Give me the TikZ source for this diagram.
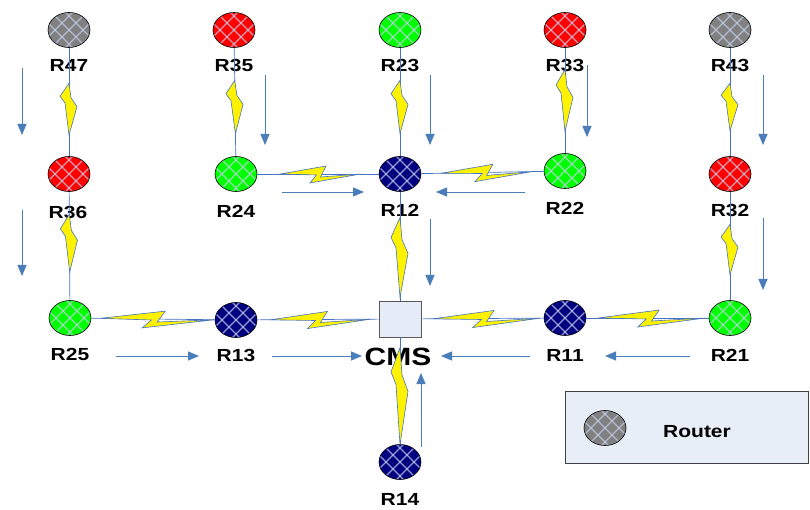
\documentclass[tikz,border=0pt]{standalone}
\usepackage{fontspec}
\usetikzlibrary{shapes.geometric,arrows.meta,calc}
\newfontfamily\lblfont[FakeStretch=1.2]{Liberation Sans}

\definecolor{linkblue}{RGB}{68,114,196}
\definecolor{flowblue}{RGB}{74,126,187}
\definecolor{routergray}{RGB}{128,128,128}
\definecolor{routerred}{RGB}{255,0,0}
\definecolor{routergreen}{RGB}{0,255,0}
\definecolor{routernavy}{RGB}{0,0,128}
\definecolor{hatchcol}{RGB}{196,208,236}
\definecolor{cmsfill}{RGB}{230,236,247}
\definecolor{legendfill}{RGB}{232,238,248}

% Z-shaped lightning bolt on a left-to-right link
\newcommand\zbolt[4]{%
  \pgfmathsetmacro\tU{#3+0.57*(#4-#3)}%
  \pgfmathsetmacro\tNb{#3+0.50*(#4-#3)}%
  \pgfmathsetmacro\tLc{#3+0.37*(#4-#3)}%
  \pgfmathsetmacro\tNa{#3+0.45*(#4-#3)}%
  \filldraw[bolt] ($(#1)!#3!(#2)$)
    -- ($(#1)!\tU!(#2)!8pt!90:(#2)$)
    -- ($(#1)!\tNb!(#2)!-3pt!90:(#2)$)
    -- ($(#1)!#4!(#2)$)
    -- ($(#1)!\tLc!(#2)!-9pt!90:(#2)$)
    -- ($(#1)!\tNa!(#2)!-1pt!90:(#2)$)
    -- cycle;}
% lightning bolt on a top-to-bottom link
\newcommand\nbolt[4]{%
  \pgfmathsetmacro\tNa{#3+0.28*(#4-#3)}%
  \pgfmathsetmacro\tR{#3+0.45*(#4-#3)}%
  \pgfmathsetmacro\tNb{#3+0.38*(#4-#3)}%
  \pgfmathsetmacro\tL{#3+0.25*(#4-#3)}%
  \filldraw[bolt] ($(#1)!#3!(#2)$)
    -- ($(#1)!\tNa!(#2)!2pt!90:(#2)$)
    -- ($(#1)!\tR!(#2)!8pt!90:(#2)$)
    -- ($(#1)!#4!(#2)$)
    -- ($(#1)!\tNb!(#2)!-4pt!90:(#2)$)
    -- ($(#1)!\tL!(#2)!-9pt!90:(#2)$)
    -- cycle;}

\tikzset{
  hatchline/.style={draw=hatchcol, draw opacity=0.75, line width=1.1pt},
  hatch/.style={path picture={
    \foreach \k in {-3,...,3}{
      \draw[hatchline] ([xshift={\k*14-25},yshift=-25]path picture bounding box.center) -- ++(50,50);
      \draw[hatchline] ([xshift={\k*14+25},yshift=-25]path picture bounding box.center) -- ++(-50,50);
    }}},
  router/.style={ellipse, draw=black, line width=0.6pt, minimum width=42pt,
    minimum height=35pt, inner sep=0pt, hatch},
  gr/.style={router, fill=routergray},
  rd/.style={router, fill=routerred},
  gn/.style={router, fill=routergreen},
  nv/.style={router, fill=routernavy},
  lbl/.style={inner sep=0pt, font=\lblfont\bfseries\fontsize{17.5}{20}\selectfont},
  cmsbox/.style={rectangle, draw=black!65, line width=0.9pt, fill=cmsfill,
    minimum width=42pt, minimum height=36pt, inner sep=0pt},
  link/.style={draw=linkblue, line width=0.7pt},
  bolt/.style={fill=yellow, draw=linkblue, line width=0.6pt, line join=miter},
  flow/.style={draw=flowblue, line width=0.9pt, -{Triangle[length=11pt,width=9pt]}},
  legendbox/.style={rectangle, draw=black!75, line width=0.8pt, fill=legendfill,
    minimum width=243pt, minimum height=72pt, inner sep=0pt}
}

\begin{document}
\begin{tikzpicture}[x=1pt,y=1pt]
\useasboundingbox (0,0) rectangle (810,-510);

% routers, top row
\node[gr] (R47) at (69,-30) {};
\node[rd] (R35) at (234,-30) {};
\node[gn] (R23) at (400,-30) {};
\node[rd] (R33) at (565,-30) {};
\node[gr] (R43) at (730,-30) {};
% second row
\node[rd] (R36) at (69,-174) {};
\node[gn] (R24) at (236,-174) {};
\node[nv] (R12) at (400,-174) {};
\node[gn] (R22) at (565,-171) {};
\node[rd] (R32) at (730,-174) {};
% third row
\node[gn] (R25) at (70,-318) {};
\node[nv] (R13) at (236,-320) {};
\node[cmsbox] (CMS) at (400,-319) {};
\node[nv] (R11) at (565,-318) {};
\node[gn] (R21) at (730,-318) {};
% bottom
\node[nv] (R14) at (400,-462) {};

% labels
\node[lbl] (lR47) at (69,-65) {R47};
\node[lbl] (lR35) at (234,-65) {R35};
\node[lbl] (lR23) at (400,-65) {R23};
\node[lbl] (lR33) at (565,-65) {R33};
\node[lbl] (lR43) at (730,-65) {R43};
\node[lbl] (lR36) at (68,-212) {R36};
\node[lbl] (lR24) at (236,-211) {R24};
\node[lbl] (lR12) at (400,-210) {R12};
\node[lbl] (lR22) at (565,-208) {R22};
\node[lbl] (lR32) at (730,-210) {R32};
\node[lbl] (lR25) at (70,-354) {R25};
\node[lbl] (lR13) at (236,-355) {R13};
\node[inner sep=0pt, font=\lblfont\bfseries\fontsize{25}{28}\selectfont] (lCMS) at (398,-357) {CMS};
\node[lbl] (lR11) at (565,-355) {R11};
\node[lbl] (lR21) at (730,-355) {R21};
\node[lbl] (lR14) at (400,-499) {R14};

% wireless links
\foreach \a/\b in {R47/R36,R35/R24,R23/R12,R33/R22,R43/R32,R36/R25,R12/CMS,R32/R21,CMS/R14,
                   R25/R13,R13/CMS,R24/R12,R12/R22,CMS/R11,R11/R21}
  \draw[link] (\a) -- (\b);

\nbolt{R47}{R36}{0.37}{0.73}
\nbolt{R35}{R24}{0.35}{0.72}
\nbolt{R23}{R12}{0.35}{0.72}
\nbolt{R33}{R22}{0.28}{0.72}
\nbolt{R43}{R32}{0.37}{0.70}
\nbolt{R36}{R25}{0.28}{0.68}
\nbolt{R12}{CMS}{0.30}{0.85}
\nbolt{R32}{R21}{0.35}{0.70}
\nbolt{CMS}{R14}{0.20}{0.88}

\zbolt{R25}{R13}{0.18}{0.87}
\zbolt{R13}{CMS}{0.21}{0.82}
\zbolt{R24}{R12}{0.27}{0.76}
\zbolt{R12}{R22}{0.25}{0.80}
\zbolt{CMS}{R11}{0.20}{0.85}
\zbolt{R11}{R21}{0.20}{0.85}

% traffic direction
\draw[flow] (22,-68) -- (22,-135);
\draw[flow] (22,-210) -- (22,-276);
\draw[flow] (265,-75) -- (265,-145);
\draw[flow] (430,-75) -- (430,-145);
\draw[flow] (587,-65) -- (587,-137);
\draw[flow] (763,-75) -- (763,-145);
\draw[flow] (430,-219) -- (430,-286);
\draw[flow] (763,-218) -- (763,-290);
\draw[flow] (282,-192) -- (364,-192);
\draw[flow] (525,-192) -- (436,-192);
\draw[flow] (116,-356) -- (199,-356);
\draw[flow] (272,-356) -- (362,-356);
\draw[flow] (530,-356) -- (441,-356);
\draw[flow] (690,-356) -- (605,-356);
\draw[flow] (421,-447) -- (421,-373);

% legend
\node[legendbox] (legend) at (686.5,-427) {};
\node[gr] (legR) at (605,-428) {};
\node[lbl] (legT) at (697,-432) {Router};
\end{tikzpicture}
\end{document}
